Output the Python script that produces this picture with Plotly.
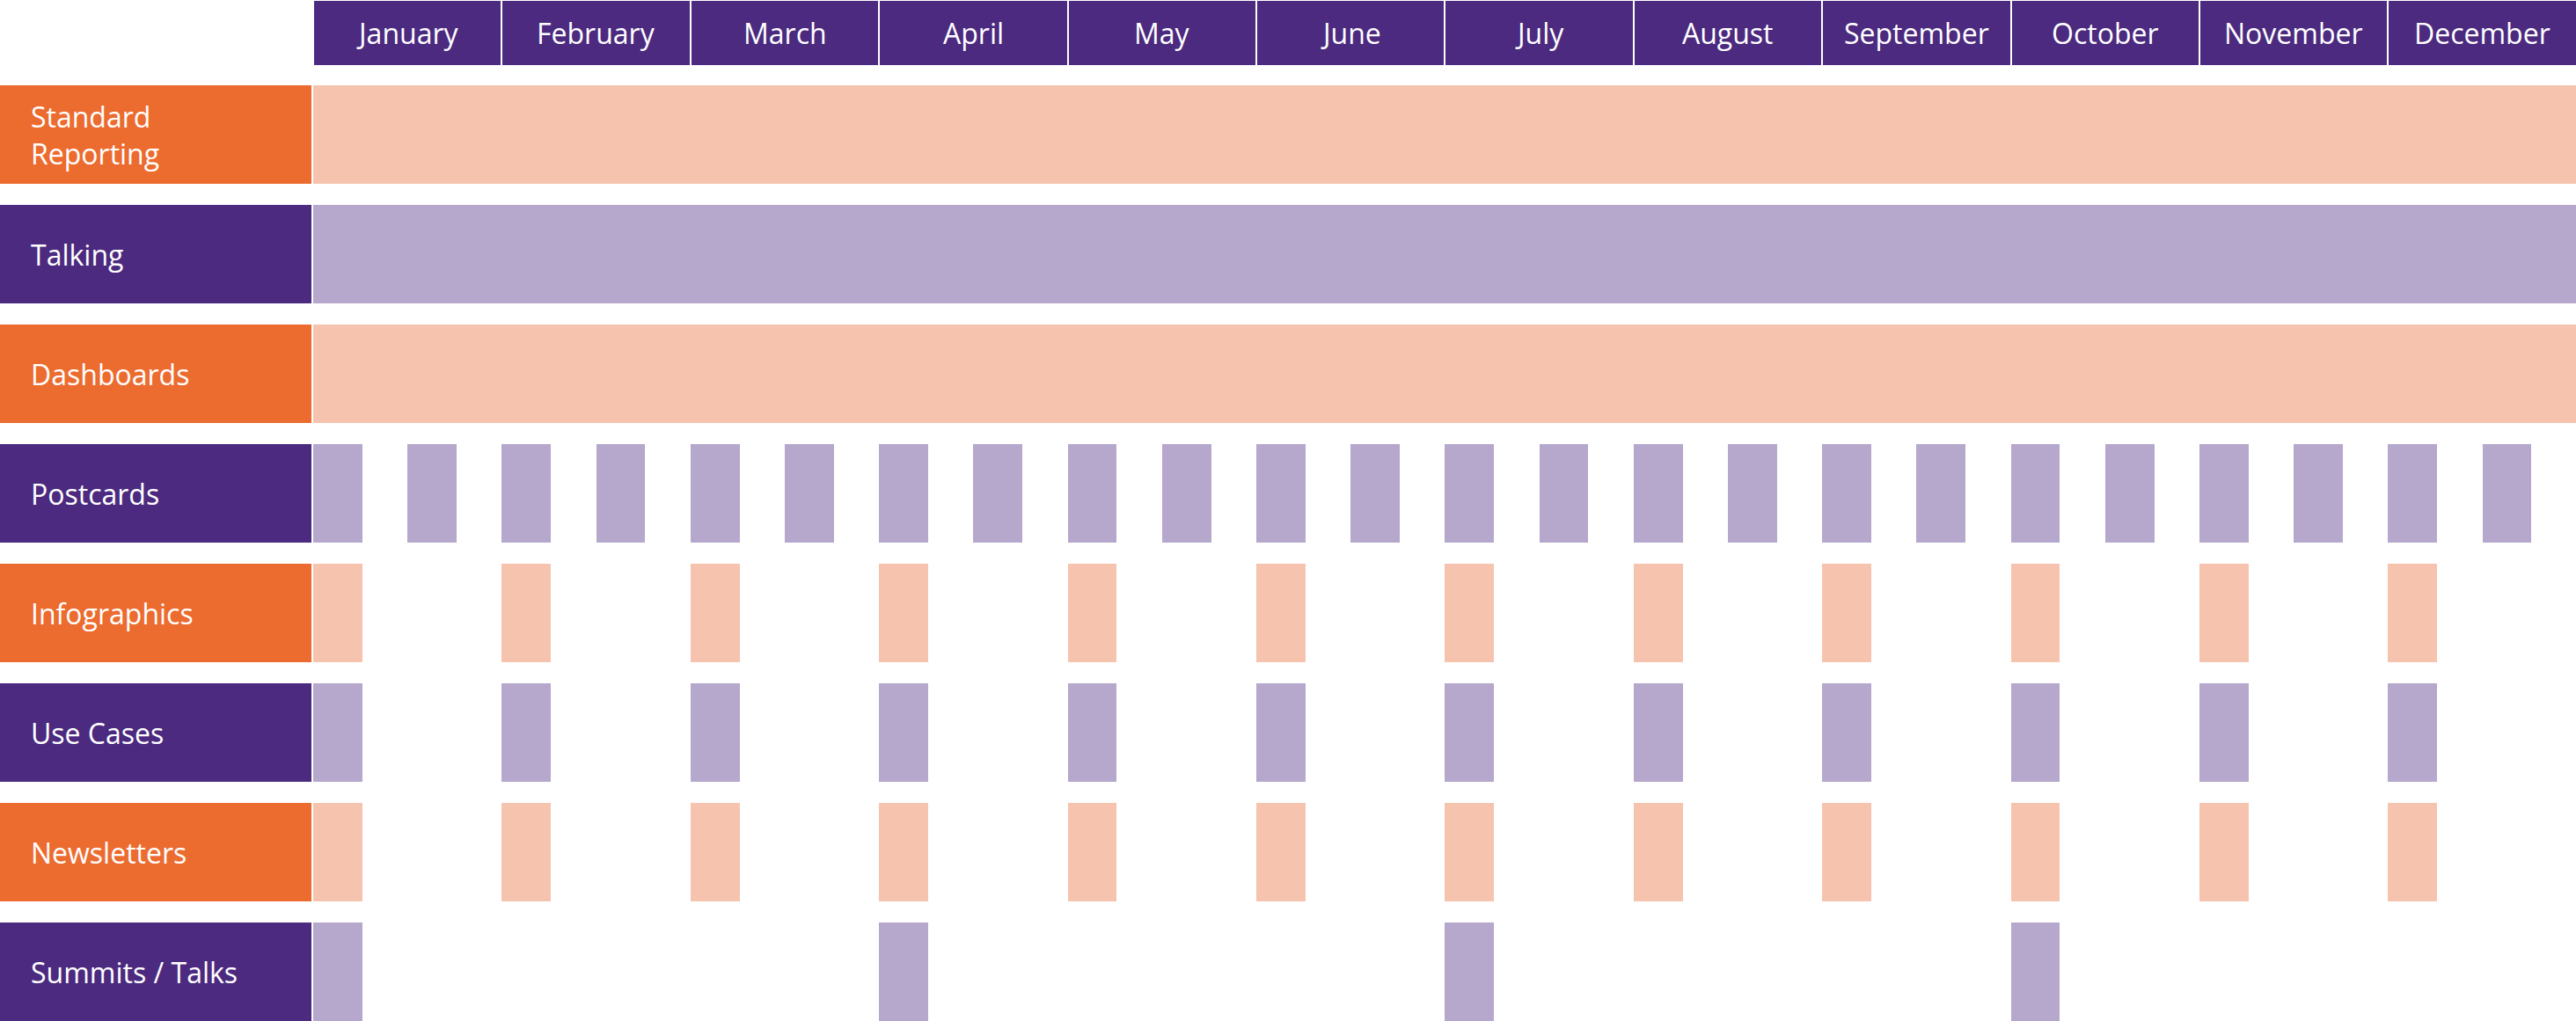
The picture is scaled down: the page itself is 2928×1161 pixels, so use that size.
import plotly.graph_objects as go

# --- data ---
months = ['January', 'February', 'March', 'April', 'May', 'June', 'July',
          'August', 'September', 'October', 'November', 'December']
activities = ['Standard<br>Reporting', 'Talking', 'Dashboards', 'Postcards',
              'Infographics', 'Use Cases', 'Newsletters', 'Summits / Talks']

# start month (0 = start of January) of each scheduled item, per activity
standard_reporting = [0]
talking = [0]
dashboards = [0]
postcards = [0, 0.5, 1, 1.5, 2, 2.5, 3, 3.5, 4, 4.5, 5, 5.5,
             6, 6.5, 7, 7.5, 8, 8.5, 9, 9.5, 10, 10.5, 11, 11.5]
infographics = [0, 1, 2, 3, 4, 5, 6, 7, 8, 9, 10, 11]
use_cases = [0, 1, 2, 3, 4, 5, 6, 7, 8, 9, 10, 11]
newsletters = [0, 1, 2, 3, 4, 5, 6, 7, 8, 9, 10, 11]
summits = [0, 3, 6, 9]

# duration in months of each item
standard_reporting_len = [12]
talking_len = [12]
dashboards_len = [12]
postcards_len = [0.26] * len(postcards)
infographics_len = [0.26] * len(infographics)
use_cases_len = [0.26] * len(use_cases)
newsletters_len = [0.26] * len(newsletters)
summits_len = [0.26] * len(summits)

starts = [standard_reporting, talking, dashboards, postcards,
          infographics, use_cases, newsletters, summits]
lengths = [standard_reporting_len, talking_len, dashboards_len, postcards_len,
           infographics_len, use_cases_len, newsletters_len, summits_len]

# --- style ---
W, H = 2928, 1161
LABEL_W = 354      # px width of the row label boxes
GRID_X0 = 356      # px where January starts
MONTH_PX = 214.4   # px per month
ROW_PX = 136       # px between rows
ROW0_PX = 153      # px centre of first row
ROW_H = 112        # px height of a row
HEADER_PX = 75     # px height of month header

DARK_PURPLE = '#4b2a7f'
ORANGE = '#ec6b2f'
PEACH = '#f6c4ae'
LAVENDER = '#b6a8cc'
FONT = 'Open Sans'

header_y = (HEADER_PX / 2 - ROW0_PX) / ROW_PX

fig = go.Figure()

# month header
fig.add_trace(go.Bar(
    orientation='h', y=[header_y] * len(months), x=[1] * len(months),
    base=list(range(len(months))), width=HEADER_PX / ROW_PX,
    marker=dict(color=DARK_PURPLE, line=dict(color='white', width=2)),
    hoverinfo='skip', xaxis='x', yaxis='y'))

for i, name in enumerate(activities):
    label_col = ORANGE if i % 2 == 0 else DARK_PURPLE
    bar_col = PEACH if i % 2 == 0 else LAVENDER
    # label box
    fig.add_trace(go.Bar(
        orientation='h', y=[i], x=[1], base=[0], width=ROW_H / ROW_PX,
        marker=dict(color=label_col, line=dict(width=0)),
        hoverinfo='skip', xaxis='x2', yaxis='y'))
    # schedule
    fig.add_trace(go.Bar(
        orientation='h', y=[i] * len(starts[i]), x=lengths[i], base=starts[i],
        width=ROW_H / ROW_PX, marker=dict(color=bar_col, line=dict(width=0)),
        name=name, hoverinfo='skip', xaxis='x', yaxis='y'))
    fig.add_annotation(x=33 / LABEL_W, y=i, xref='x2', yref='y', text=name,
                       showarrow=False, xanchor='left', align='left',
                       font=dict(family=FONT, size=32, color='white'))

for m, month in enumerate(months):
    fig.add_annotation(x=m + 0.5, y=header_y, xref='x', yref='y', text=month,
                       showarrow=False, font=dict(family=FONT, size=32, color='white'))

fig.update_layout(
    width=W, height=H, margin=dict(l=0, r=0, t=0, b=0),
    paper_bgcolor='white', plot_bgcolor='white',
    barmode='overlay', showlegend=False, bargap=0,
    xaxis=dict(domain=[GRID_X0 / W, 1], range=[0, (W - GRID_X0) / MONTH_PX],
               visible=False, fixedrange=True),
    xaxis2=dict(domain=[0, LABEL_W / W], range=[0, 1], anchor='y',
                visible=False, fixedrange=True),
    yaxis=dict(range=[(H - ROW0_PX) / ROW_PX, -ROW0_PX / ROW_PX],
               visible=False, fixedrange=True),
)

fig.write_html("out.html", config={'displayModeBar': False},
               post_script="document.body.style.margin='0';")
